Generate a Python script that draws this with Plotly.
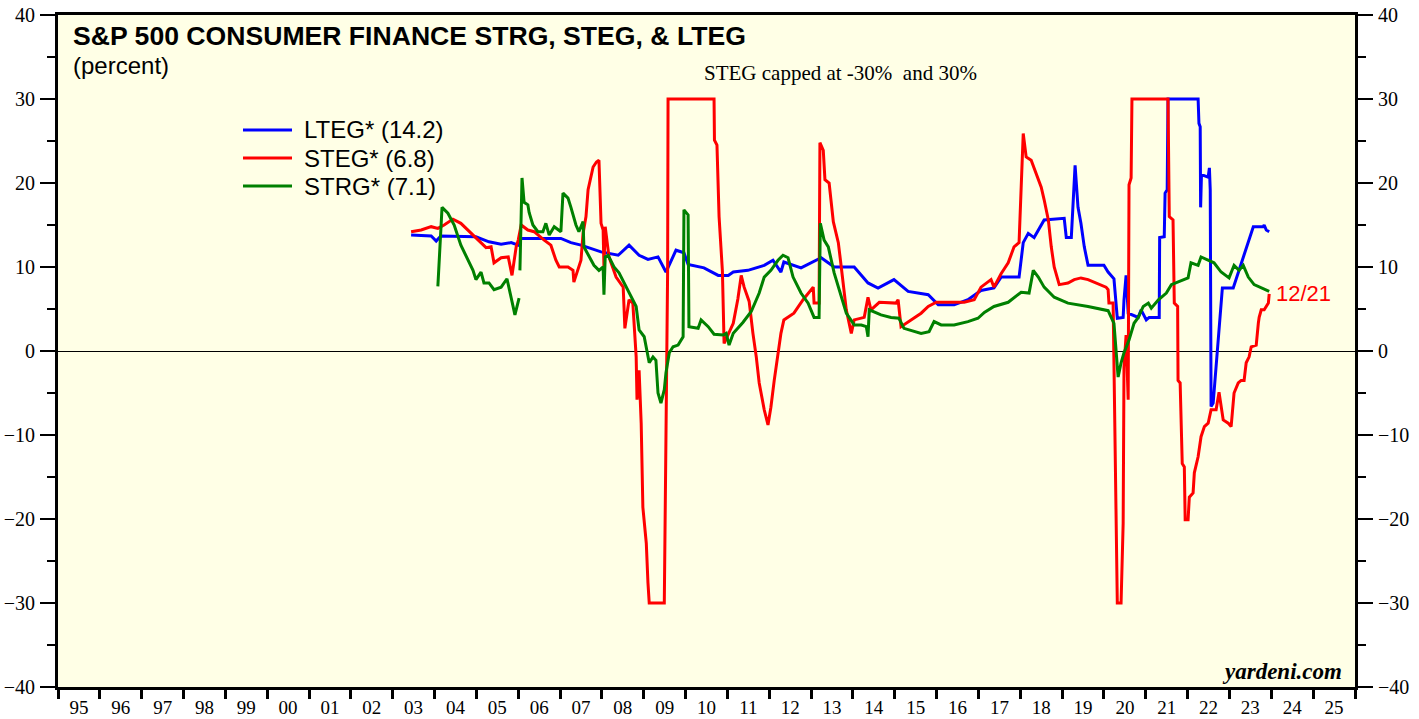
import pandas as pd
import plotly.graph_objects as go

# ---- data: (decimal year, percent) ----
LTEG = [(2003.44, 13.8), (2003.92, 13.7), (2004.04, 13.1), (2004.15, 13.7), (2004.99, 13.6), (2005.30, 13.0),
        (2005.59, 12.7), (2005.83, 12.9), (2006.00, 12.6), (2006.07, 13.4), (2007.02, 13.4), (2007.26, 12.9),
        (2007.50, 12.6), (2007.98, 11.8), (2008.39, 11.4), (2008.65, 12.6), (2008.89, 11.4), (2009.10, 10.9),
        (2009.34, 11.2), (2009.53, 9.4), (2009.77, 12.0), (2009.96, 11.7), (2010.06, 10.3), (2010.44, 9.9),
        (2010.78, 9.0), (2011.02, 9.0), (2011.14, 9.4), (2011.49, 9.6), (2011.88, 10.2), (2012.09, 10.8),
        (2012.28, 9.4), (2012.35, 10.6), (2012.76, 9.9), (2013.24, 11.1), (2013.55, 10.0), (2014.03, 10.0),
        (2014.36, 8.1), (2014.60, 7.5), (2014.98, 8.5), (2015.32, 7.1), (2015.80, 6.7), (2016.04, 5.5),
        (2016.42, 5.5), (2016.75, 6.1), (2017.06, 7.2), (2017.37, 7.5), (2017.54, 8.8), (2017.97, 8.8),
        (2018.07, 12.9), (2018.19, 14.0), (2018.33, 13.5), (2018.57, 15.6), (2019.05, 15.8), (2019.10, 13.5),
        (2019.22, 13.5), (2019.26, 17.1), (2019.31, 22.1), (2019.38, 17.1), (2019.45, 15.2), (2019.53, 12.4),
        (2019.62, 10.2), (2020.00, 10.2), (2020.10, 9.4), (2020.24, 8.6), (2020.32, 3.9), (2020.46, 4.0),
        (2020.48, 6.1), (2020.53, 9.0), (2020.58, 4.5), (2020.82, 4.0), (2020.89, 4.9), (2021.01, 3.7),
        (2021.08, 4.0), (2021.32, 4.0), (2021.33, 13.5), (2021.44, 13.6), (2021.46, 18.8), (2021.51, 19.2),
        (2021.53, 30.0), (2022.25, 30.0), (2022.27, 27.1), (2022.30, 26.7), (2022.31, 17.1), (2022.33, 21.0),
        (2022.49, 20.7), (2022.52, 21.8), (2022.54, 19.2), (2022.56, -6.6), (2022.61, -6.2), (2022.83, 7.5),
        (2023.09, 7.5), (2023.57, 14.8), (2023.81, 14.8), (2023.83, 15.0), (2023.88, 14.4), (2023.95, 14.2)]

STEG = [(2003.44, 14.2), (2003.68, 14.4), (2003.92, 14.8), (2004.08, 14.6), (2004.23, 15.0), (2004.44, 15.7),
        (2004.63, 15.2), (2004.87, 14.0), (2005.11, 12.9), (2005.23, 12.3), (2005.35, 12.4), (2005.42, 10.5),
        (2005.59, 11.1), (2005.76, 11.2), (2005.85, 9.0), (2005.95, 12.4), (2006.00, 13.2), (2006.07, 15.0),
        (2006.23, 14.4), (2006.38, 14.2), (2006.62, 13.2), (2006.78, 12.6), (2006.90, 10.8), (2006.98, 10.0),
        (2007.19, 10.0), (2007.31, 9.6), (2007.33, 8.2), (2007.43, 9.6), (2007.50, 10.8), (2007.55, 14.0),
        (2007.62, 16.0), (2007.67, 19.2), (2007.74, 20.7), (2007.79, 21.9), (2007.87, 22.5), (2007.93, 22.7),
        (2007.98, 15.2), (2008.03, 14.4), (2008.05, 10.0), (2008.08, 14.8), (2008.17, 11.2), (2008.34, 8.8),
        (2008.51, 7.6), (2008.55, 2.7), (2008.65, 6.1), (2008.74, 5.7), (2008.82, -0.7), (2008.84, -5.8),
        (2008.89, -2.3), (2008.94, -8.6), (2008.98, -18.6), (2009.06, -22.9), (2009.10, -27.6), (2009.13, -30.0),
        (2009.49, -30.0), (2009.53, -6.2), (2009.57, 9.6), (2009.58, 30.0), (2010.68, 30.0), (2010.69, 25.1),
        (2010.75, 24.5), (2010.80, 16.0), (2010.88, 9.5), (2010.92, 0.9), (2011.02, 1.9), (2011.14, 3.3),
        (2011.25, 6.2), (2011.33, 9.0), (2011.40, 7.6), (2011.52, 5.9), (2011.61, 2.1), (2011.69, -0.7),
        (2011.76, -3.8), (2011.88, -7.0), (2011.97, -8.8), (2012.04, -6.7), (2012.12, -3.5), (2012.21, -0.2),
        (2012.28, 2.1), (2012.35, 3.7), (2012.59, 4.5), (2012.81, 6.1), (2013.05, 7.6), (2013.07, 5.7),
        (2013.19, 5.7), (2013.21, 24.8), (2013.29, 23.9), (2013.33, 20.4), (2013.43, 20.0), (2013.53, 15.4),
        (2013.65, 12.9), (2013.72, 10.0), (2013.84, 4.9), (2013.96, 2.1), (2014.03, 3.7), (2014.27, 4.0),
        (2014.36, 6.4), (2014.43, 4.9), (2014.63, 5.8), (2015.03, 5.7), (2015.08, 6.1), (2015.15, 2.9),
        (2015.46, 3.9), (2015.63, 4.5), (2015.80, 5.3), (2015.99, 5.8), (2016.42, 5.8), (2016.66, 5.8),
        (2016.90, 6.1), (2017.06, 7.6), (2017.30, 8.5), (2017.37, 7.6), (2017.54, 9.2), (2017.71, 10.5),
        (2017.85, 12.4), (2017.97, 12.9), (2018.07, 25.9), (2018.14, 23.1), (2018.26, 22.7), (2018.38, 21.2),
        (2018.50, 19.5), (2018.57, 18.0), (2018.67, 15.6), (2018.74, 12.4), (2018.81, 10.0), (2018.93, 7.9),
        (2019.14, 8.1), (2019.29, 8.5), (2019.45, 8.7), (2019.62, 8.5), (2019.93, 7.9), (2020.05, 7.6),
        (2020.10, 7.3), (2020.12, 5.7), (2020.22, 5.7), (2020.29, -22.5), (2020.32, -30.0), (2020.41, -30.0),
        (2020.46, -20.5), (2020.48, -1.9), (2020.53, 1.9), (2020.58, -5.8), (2020.60, 19.8), (2020.65, 20.6),
        (2020.67, 30.0), (2021.53, 30.0), (2021.56, 16.0), (2021.65, 15.6), (2021.68, 5.7), (2021.76, 5.3),
        (2021.77, -3.5), (2021.82, -3.8), (2021.87, -13.4), (2021.92, -13.8), (2021.94, -20.1), (2022.01, -20.1),
        (2022.04, -17.4), (2022.13, -16.9), (2022.16, -14.5), (2022.25, -12.6), (2022.32, -10.2), (2022.40, -9.0),
        (2022.49, -8.6), (2022.56, -7.0), (2022.68, -7.0), (2022.75, -4.9), (2022.85, -8.2), (2022.97, -8.6),
        (2023.04, -9.0), (2023.11, -5.0), (2023.21, -3.8), (2023.28, -3.5), (2023.35, -3.5), (2023.40, -1.4),
        (2023.47, -0.7), (2023.52, 0.5), (2023.64, 0.7), (2023.69, 3.3), (2023.71, 4.0), (2023.76, 4.9),
        (2023.83, 4.9), (2023.93, 5.7), (2023.95, 6.8)]

STRG = [(2004.08, 7.7), (2004.18, 17.1), (2004.32, 16.4), (2004.47, 15.0), (2004.63, 12.6), (2004.80, 10.8),
        (2004.92, 9.6), (2004.99, 8.5), (2005.11, 9.4), (2005.18, 8.1), (2005.30, 8.1), (2005.42, 7.3),
        (2005.59, 7.6), (2005.73, 8.6), (2005.83, 6.1), (2005.92, 4.3), (2006.02, 6.3), (None, None),
        (2006.04, 9.6), (2006.09, 20.6), (2006.14, 17.7), (2006.23, 17.4), (2006.26, 16.5), (2006.35, 15.0),
        (2006.47, 14.2), (2006.59, 14.2), (2006.66, 15.2), (2006.74, 13.8), (2006.86, 14.8), (2007.02, 14.2),
        (2007.07, 18.8), (2007.19, 18.2), (2007.26, 17.1), (2007.38, 15.0), (2007.45, 14.2), (2007.55, 15.4),
        (2007.57, 12.4), (2007.69, 11.2), (2007.81, 10.2), (2007.93, 9.6), (2008.03, 10.0), (2008.05, 6.7),
        (2008.08, 11.2), (2008.15, 11.4), (2008.29, 10.0), (2008.41, 9.3), (2008.53, 8.1), (2008.70, 6.4),
        (2008.82, 5.3), (2008.89, 2.5), (2009.01, 1.7), (2009.13, -1.4), (2009.22, -0.7), (2009.29, -1.1),
        (2009.34, -5.0), (2009.41, -6.2), (2009.49, -4.6), (2009.53, -2.6), (2009.61, -0.2), (2009.70, 0.5),
        (2009.82, 0.7), (2009.94, 1.7), (2009.96, 16.8), (2010.06, 16.2), (2010.08, 2.9), (2010.30, 2.7),
        (2010.37, 3.7), (2010.54, 2.9), (2010.68, 2.0), (2010.90, 1.9), (2010.97, 2.1), (2011.04, 0.7),
        (2011.14, 2.1), (2011.37, 3.4), (2011.57, 4.7), (2011.76, 6.9), (2011.88, 8.8), (2012.04, 9.6),
        (2012.21, 10.8), (2012.33, 11.4), (2012.45, 11.1), (2012.57, 8.8), (2012.76, 6.9), (2012.93, 5.7),
        (2013.07, 4.0), (2013.19, 4.0), (2013.22, 15.2), (2013.31, 13.2), (2013.41, 12.4), (2013.55, 9.3),
        (2013.67, 7.3), (2013.84, 4.5), (2014.03, 3.1), (2014.20, 3.1), (2014.32, 2.9), (2014.36, 1.7),
        (2014.39, 4.9), (2014.55, 4.6), (2014.67, 4.3), (2014.91, 4.0), (2015.10, 3.9), (2015.22, 2.7),
        (2015.46, 2.3), (2015.63, 2.1), (2015.82, 2.3), (2015.94, 3.5), (2016.11, 3.1), (2016.42, 3.1),
        (2016.75, 3.5), (2016.99, 3.9), (2017.14, 4.6), (2017.37, 5.3), (2017.71, 5.8), (2018.02, 7.0),
        (2018.21, 6.9), (2018.31, 9.6), (2018.43, 8.8), (2018.57, 7.6), (2018.81, 6.4), (2019.14, 5.7),
        (2019.62, 5.3), (2020.10, 4.8), (2020.24, 3.3), (2020.34, -3.1), (2020.41, -1.4), (2020.48, -0.2),
        (2020.60, 1.3), (2020.72, 3.3), (2020.82, 4.0), (2020.94, 5.3), (2021.06, 5.7), (2021.13, 5.1),
        (2021.30, 6.1), (2021.49, 6.9), (2021.61, 7.9), (2021.77, 8.2), (2022.01, 8.7), (2022.08, 10.5),
        (2022.25, 10.2), (2022.32, 11.2), (2022.49, 10.8), (2022.63, 10.5), (2022.80, 9.4), (2022.99, 8.7),
        (2023.11, 10.2), (2023.23, 9.6), (2023.33, 10.2), (2023.45, 8.8), (2023.59, 7.9), (2023.76, 7.5),
        (2023.95, 7.1)]

SERIES_NAMES = ["LTEG* (14.2)", "STEG* (6.8)", "STRG* (7.1)"]
SERIES_COLORS = ["#0000FF", "#FF0000", "#008000"]
LAST_DATE_LABEL = "12/21"


def to_xy(pairs):
    xs, ys = [], []
    for yr, v in pairs:
        if yr is None:
            xs.append(None)
            ys.append(None)
            continue
        y0 = int(yr)
        xs.append(pd.Timestamp(year=y0, month=1, day=1) + pd.Timedelta(days=(yr - y0) * 365.25))
        ys.append(v)
    return xs, ys


W, H = 1419, 719
L, R, T, B = 58, 64, 15, 32
pw, ph = W - L - R, H - T - B


def px(x):
    return (x - L) / pw


def py(y):
    return (H - B - y) / ph


fig = go.Figure()
for pairs, name, color in zip([LTEG, STEG, STRG], SERIES_NAMES, SERIES_COLORS):
    xs, ys = to_xy(pairs)
    fig.add_trace(go.Scatter(x=xs, y=ys, mode="lines", name=name, showlegend=False,
                             line=dict(color=color, width=3), connectgaps=False))

# helper trace so the right-hand axis is drawn
fig.add_trace(go.Scatter(x=[None], y=[None], yaxis="y2", showlegend=False, hoverinfo="skip"))

# legend (drawn as key lines + labels)
for i, (name, color) in enumerate(zip(SERIES_NAMES, SERIES_COLORS)):
    yc = py(130 + 28 * i)
    fig.add_shape(type="line", xref="paper", yref="paper", x0=px(243), x1=px(292), y0=yc, y1=yc,
                  line=dict(color=color, width=3))
    fig.add_annotation(x=px(302), y=yc, xref="paper", yref="paper", xanchor="left", yanchor="middle",
                       text=name, showarrow=False,
                       font=dict(family="Liberation Sans, Arial", size=24, color="black"))

sx, sy = to_xy(STEG)
fig.add_annotation(x=sx[-1], y=sy[-1], xref="x", yref="y", text=LAST_DATE_LABEL, showarrow=False,
                   xanchor="left", yanchor="middle", xshift=5,
                   font=dict(family="Liberation Sans, Arial", size=22, color="#FF0000"))

fig.add_annotation(x=px(71), y=py(36), xref="paper", yref="paper", xanchor="left", yanchor="middle",
                   text="<b>S&P 500 CONSUMER FINANCE STRG, STEG, & LTEG</b>", showarrow=False,
                   font=dict(family="Liberation Sans, Arial", size=26.6, color="black"))
fig.add_annotation(x=px(71), y=py(66), xref="paper", yref="paper", xanchor="left", yanchor="middle",
                   text="(percent)", showarrow=False,
                   font=dict(family="Liberation Sans, Arial", size=24, color="black"))
fig.add_annotation(x=px(840), y=py(73), xref="paper", yref="paper", xanchor="center", yanchor="middle",
                   text="STEG capped at -30%  and 30%", showarrow=False,
                   font=dict(family="Liberation Serif, Times New Roman", size=21, color="black"))
fig.add_annotation(x=px(1344), y=py(671), xref="paper", yref="paper", xanchor="right", yanchor="middle",
                   text="<b><i>yardeni.com</i></b>", showarrow=False,
                   font=dict(family="Liberation Serif, Times New Roman", size=23, color="black"))

tickfont = dict(family="Liberation Serif, Times New Roman", size=20, color="black")
yax = dict(range=[-40, 40], dtick=10, tick0=0, ticks="outside", ticklen=15, tickwidth=1.5, tickcolor="black",
           showgrid=False, showline=True, linewidth=3, linecolor="black", tickfont=tickfont,
           ticklabelstandoff=1, automargin=False,
           minor=dict(dtick=5, ticks="outside", ticklen=8, tickwidth=1.5, tickcolor="black", showgrid=False))

fig.update_layout(
    width=W, height=H,
    margin=dict(l=L, r=R, t=T, b=B, pad=0, autoexpand=False),
    paper_bgcolor="white",
    plot_bgcolor="#FFFFE6",
    showlegend=False,
    xaxis=dict(type="date", range=["1995-01-01", "2026-01-01"], tick0="1995-01-01", dtick="M12",
               ticklabelmode="period", tickformat="%y", ticks="outside", ticklen=9, tickwidth=2.5,
               tickcolor="black", showgrid=False, showline=True, linewidth=3, linecolor="black",
               mirror=True, zeroline=False, automargin=False, ticklabelstandoff=-8,
               tickfont=dict(family="Liberation Serif, Times New Roman", size=19, color="black")),
    yaxis=dict(**yax, zeroline=True, zerolinecolor="black", zerolinewidth=1),
    yaxis2=dict(**yax, overlaying="y", side="right", zeroline=False),
)

# remove the page's default body margin so the figure fills the window exactly
fig.write_html("out.html", config={"displayModeBar": False},
               post_script="document.body.style.margin='0';document.body.style.overflow='hidden';")
